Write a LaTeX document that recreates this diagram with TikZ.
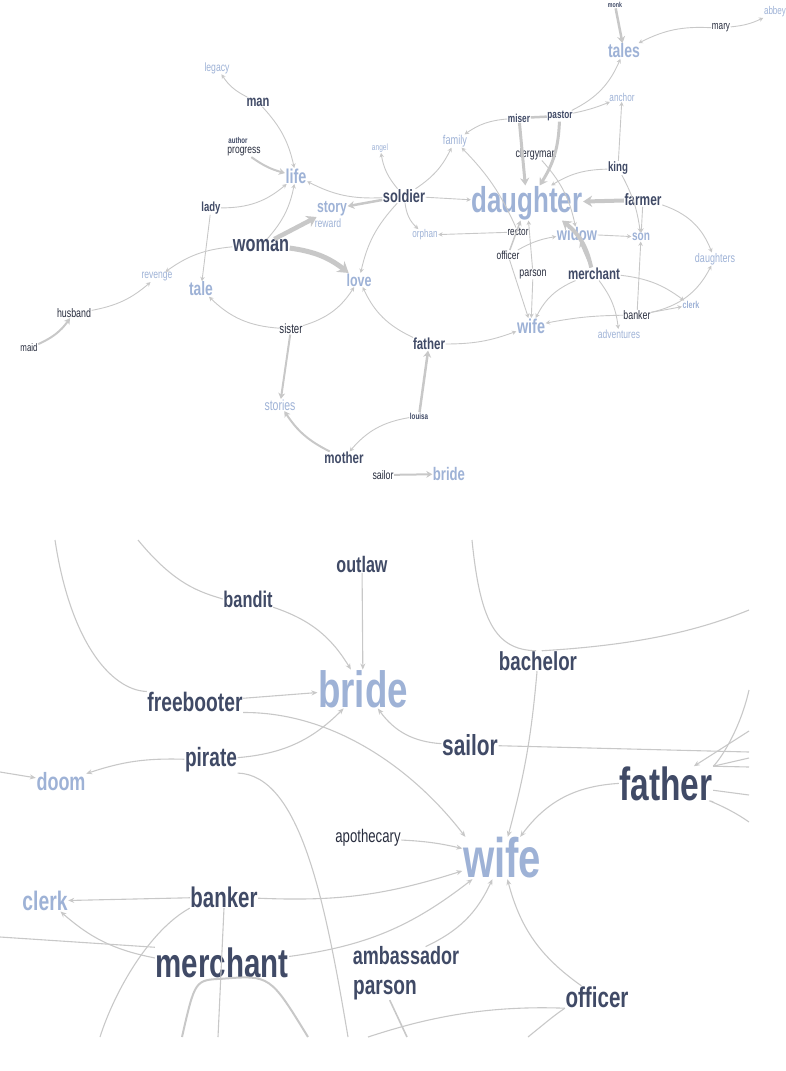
\documentclass[tikz,border=0pt]{standalone}
\usepackage{fontspec}
\newfontfamily\wf[FakeStretch=0.72]{Liberation Sans}
\usetikzlibrary{arrows.meta}
\definecolor{dkc}{RGB}{64,74,102}
\definecolor{ltc}{RGB}{158,178,214}
\definecolor{edgec}{RGB}{200,200,200}
\tikzset{
  dk/.style={text=dkc,inner sep=0.5pt,font=\wf\bfseries\fontsize{#1}{#1}\selectfont},
  lt/.style={text=ltc,inner sep=0.5pt,font=\wf\bfseries\fontsize{#1}{#1}\selectfont},
  dkr/.style={text=dkc!60!black,inner sep=0.5pt,font=\wf\fontsize{#1}{#1}\selectfont},
  ltr/.style={text=ltc,inner sep=0.5pt,font=\wf\fontsize{#1}{#1}\selectfont},
  link/.style={draw=edgec,line width=0.9pt,-{Stealth[length=3pt 1.5,width=2.5pt 2.2]}},
  blink/.style={draw=edgec,line width=1.1pt,-{Stealth[length=6pt,width=5pt]}},
  bare/.style={draw=edgec,line width=1.1pt},
}
\begin{document}
\begin{tikzpicture}[x=1pt,y=-1pt]
  \useasboundingbox (0,0) rectangle (785,1071);
  % top graph
  \node[dk=7.3] (monk) at (615,5) {monk};
  \node[dkr=11.3] (mary) at (721,28) {mary};
  \node[ltr=11.2] (abbey) at (775,12) {abbey};
  \node[lt=19.5] (tales) at (624,51) {tales};
  \node[ltr=11.4] (anchor) at (622,97) {anchor};
  \node[dk=11.5] (miser) at (519,118) {miser};
  \node[dk=11.4] (pastor) at (560,116) {pastor};
  \node[ltr=12.8] (family) at (455,141) {family};
  \node[dkr=12.3] (clergy) at (536,154) {clergyman};
  \node[dk=13.5] (king) at (618,168) {king};
  \node[dk=17.8] (soldier) at (404,196) {soldier};
  \node[lt=36] (daughter) at (527,203) {daughter};
  \node[dk=16.5] (farmer) at (643,200) {farmer};
  \node[dkr=11.4] (rector) at (518,232) {rector};
  \node[lt=18.2] (widow) at (577,234) {widow};
  \node[lt=14] (son) at (641,237) {son};
  \node[ltr=11.2] (orphan) at (425,235) {orphan};
  \node[dkr=11.7] (officer) at (508,255) {officer};
  \node[dkr=12.3] (parson) at (533,274) {parson};
  \node[dk=16] (merchant) at (594,274) {merchant};
  \node[ltr=12.5] (daughters) at (715,259) {daughters};
  \node[lt=10] (clerk) at (691,305) {clerk};
  \node[dkr=12.3] (banker) at (637,315) {banker};
  \node[lt=20] (wife) at (531,326) {wife};
  \node[ltr=11.8] (adventures) at (619,334) {adventures};
  \node[dk=16] (father) at (429,344) {father};
  \node[dk=8.7] (louisa) at (419,416) {louisa};
  \node[lt=18.2] (bride) at (449,474) {bride};
  \node[dkr=12.2] (sailor) at (383,475) {sailor};
  \node[ltr=12] (legacy) at (217,68) {legacy};
  \node[dk=15.5] (man) at (258,102) {man};
  \node[dk=8.5] (author) at (238,140.5) {author};
  \node[dkr=11.8] (progress) at (244,152) {progress};
  \node[lt=20] (life) at (296,176) {life};
  \node[ltr=9.1] (angel) at (380,148) {angel};
  \node[dk=13.2] (lady) at (211,208) {lady};
  \node[lt=17] (story) at (332,209) {story};
  \node[ltr=12] (reward) at (328,223.5) {reward};
  \node[dk=22.6] (woman) at (261,246) {woman};
  \node[ltr=11.9] (revenge) at (157,277) {revenge};
  \node[lt=19.3] (tale) at (201,289) {tale};
  \node[lt=17.3] (love) at (359,280) {love};
  \node[dkr=12.3] (husband) at (74,313) {husband};
  \node[dkr=10.9] (maid) at (29,348) {maid};
  \node[dkr=13.4] (sister) at (291,329) {sister};
  \node[ltr=14.6] (stories) at (280,405) {stories};
  \node[dk=16] (mother) at (344,458) {mother};

  \foreach \from/\to/\b in
    {mary/tales/-15,mary/abbey/-10,man/legacy/15,man/life/15,lady/life/-20,
     soldier/life/15,soldier/angel/15,woman/life/-15,woman/revenge/-15,
     husband/revenge/-15,lady/tale/0,soldier/love/-15,sister/tale/20,
     sister/love/-20,louisa/mother/-20,father/love/20,father/wife/-10,
     soldier/family/-15,rector/family/-10,miser/family/-15,pastor/tales/-20,
     pastor/anchor/-5,clergy/widow/15,soldier/daughter/0,king/daughter/-15,
     king/anchor/0,king/son/10,farmer/son/0,farmer/daughters/25,
     soldier/orphan/-20,rector/orphan/0,widow/son/0,parson/daughter/0,
     officer/wife/0,parson/wife/0,officer/widow/10,merchant/wife/-20,
     merchant/adventures/15,merchant/clerk/15,banker/wife/-5,banker/son/0,
     banker/clerk/0,banker/daughters/-25}
    \draw[link] (\from) to[bend left=\b] (\to);
  \foreach \from/\to/\w/\b in
    {monk/tales/2.5/0,progress/life/2/-10,soldier/story/2.5/0,woman/story/4.5/0,
     woman/love/5/15,maid/husband/2/-15,sister/stories/2/0,mother/stories/2/15,
     louisa/father/2.5/0,sailor/bride/2/0,miser/daughter/3/0,pastor/daughter/3/15,
     farmer/daughter/4/0,officer/daughter/1.5/0,merchant/daughter/4/-20,
     merchant/widow/2/0}
    \draw[link,line width=\w pt] (\from) to[bend left=\b] (\to);
  \draw[draw=edgec,line width=2.5pt] (miser) -- (pastor);

  % bottom graph
  \node[dk=22.4] (outlaw2) at (362,564) {outlaw};
  \node[dk=22.7] (bandit2) at (248,599) {bandit};
  \node[lt=51] (bride2) at (363,689) {bride};
  \node[dk=26] (bachelor2) at (538,661) {bachelor};
  \node[dk=26.7] (free2) at (195,702) {freebooter};
  \node[dk=29] (sailor2) at (470,745) {sailor};
  \node[dk=26.5] (pirate2) at (211,760) {pirate};
  \node[lt=25] (doom2) at (61,782) {doom};
  \node[dk=46.5] (father2) at (666,784) {father};
  \node[dkr=18.3] (apoth2) at (368,838) {apothecary};
  \node[lt=55.7] (wife2) at (502,858) {wife};
  \node[dk=28.4] (banker2) at (224,897) {banker};
  \node[lt=26.8] (clerk2) at (45,901) {clerk};
  \node[dk=41] (merchant2) at (222,963) {merchant};
  \node[dk=25,inner sep=0pt] (amb2) at (406,956) {ambassador};
  \node[dk=26.5,inner sep=0pt] (parson2) at (385,990) {parson};
  \node[dk=28.6] (officer2) at (597,997) {officer};

  \coordinate (c1) at (55,540);
  \coordinate (c2) at (138,540);
  \coordinate (c3) at (0,772);
  \coordinate (c4) at (348,1037);
  \coordinate (c5) at (749,752);
  \coordinate (c6) at (472,540);
  \coordinate (c7) at (749,610);
  \coordinate (c8) at (749,690);
  \coordinate (c9) at (749,731);
  \coordinate (c10) at (749,758);
  \coordinate (c11) at (749,767);
  \coordinate (c12) at (749,795);
  \coordinate (c13) at (749,822);
  \coordinate (c14) at (0,937);
  \coordinate (c15) at (100,1037);
  \coordinate (c16) at (218,1037);
  \coordinate (c17) at (182,1037);
  \coordinate (c18) at (308,1037);
  \coordinate (c19) at (368,1037);
  \coordinate (c20) at (528,1037);
  \coordinate (c21) at (407,1037);

  \foreach \from/\to/\b in
    {bandit2/bride2/20,outlaw2/bride2/0,free2/bride2/0,
     pirate2/bride2/-20,pirate2/doom2/-10,c3/doom2/0,sailor2/bride2/25,
     bachelor2/wife2/5,c9/father2/0,father2/wife2/-25,apoth2/wife2/5,
     banker2/wife2/-10,banker2/clerk2/0,merchant2/clerk2/15,
     merchant2/wife2/-15,amb2/wife2/-20,officer2/wife2/20}
    \draw[blink] (\from) to[bend left=\b] (\to);
  \draw[blink] (free2.south east) .. controls (330,712) and (410,765) .. (wife2.150);
  \draw[bare] (c1) .. controls (70,640) and (110,690) .. (free2.north west);
  \draw[bare] (c2) .. controls (175,585) and (200,592) .. (bandit2.west);
  \draw[bare] (pirate2.south east) .. controls (300,775) and (325,900) .. (c4);
  \draw[bare] (sailor2) -- (c5);
  \draw[bare] (c6) .. controls (480,620) and (495,650) .. (bachelor2.100);
  \draw[bare] (bachelor2.70) .. controls (640,645) and (700,630) .. (c7);
  \draw[bare] (c8) .. controls (740,730) and (720,760) .. (father2.north east);
  \draw[bare] (c10) -- (father2.north east);
  \draw[bare] (c11) -- (father2.north east);
  \draw[bare] (father2) -- (c12);
  \draw[bare] (c13) .. controls (725,805) and (700,798) .. (father2.south east);
  \draw[bare] (c14) -- (merchant2.north west);
  \draw[bare] (banker2.south west) .. controls (150,930) and (115,990) .. (c15);
  \draw[bare] (banker2.south) -- (c16);
  \draw[bare,line width=2pt] (merchant2.south) .. controls (195,980) .. (c17);
  \draw[bare,line width=2pt] (merchant2.south) .. controls (270,975) .. (c18);
  \draw[bare] (officer2.south west) .. controls (480,1005) and (420,1020) .. (c19);
  \draw[bare] (officer2.south west) .. controls (555,1015) .. (c20);
  \draw[bare,line width=1.6pt] (parson2) -- (c21);
\end{tikzpicture}
\end{document}
